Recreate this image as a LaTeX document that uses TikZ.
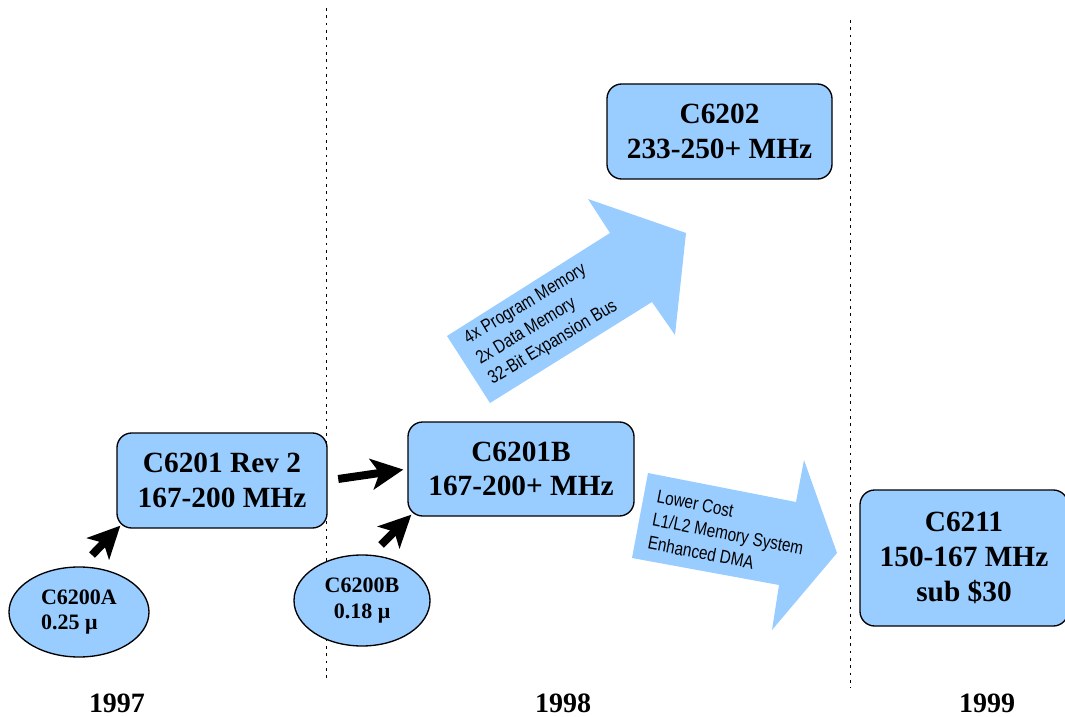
\documentclass[tikz,border=0pt]{standalone}
\usepackage{fontspec}
\setmainfont{Liberation Serif}
\newfontfamily\narrowfont{Liberation Sans}[FakeStretch=0.82]
\usetikzlibrary{arrows.meta,shapes.geometric}
\definecolor{chipblue}{HTML}{99CCFF}
\tikzset{
  chip/.style={draw=black, line width=1pt, fill=chipblue, rounded corners=11pt,
    align=center, inner sep=0pt, font=\fontsize{22}{26}\selectfont\bfseries},
  proc/.style={ellipse, draw=black, line width=1pt, fill=chipblue, inner sep=0pt,
    font=\fontsize{16.5}{19}\selectfont\bfseries},
  year/.style={font=\fontsize{21}{24}\selectfont\bfseries},
  bigarrow/.style={fill=chipblue, draw=none},
  arrowtext/.style={align=left, inner sep=0pt, font=\narrowfont\fontsize{14}{17.7}\selectfont},
  push/.style={line width=6pt, black, -{Stealth[length=24pt, width=23pt, inset=6pt]}},
  divider/.style={line width=0.75pt, dash pattern=on 2pt off 3.5pt}
}
\begin{document}
\begin{tikzpicture}[x=0.75pt,y=-0.75pt]
\useasboundingbox (0,0) rectangle (1065,717);

% dividers
\coordinate (d1t) at (326,8);
\coordinate (d1b) at (326,678);
\coordinate (d2t) at (850,20);
\coordinate (d2b) at (850,688);
\draw[divider] (d1t) -- (d1b);
\draw[divider] (d2t) -- (d2b);

% big blue arrows
\draw[bigarrow] (447,336) -- (610,233) -- (588,199) -- (686,233) -- (675,335) -- (652,302) -- (490,403) -- cycle;
\draw[bigarrow] (648,473) -- (796,502) -- (804,460) -- (837,553) -- (772,630) -- (779,585) -- (632,558) -- cycle;

\node[arrowtext, rotate=31] (up) at (541,323) {4x Program Memory\\2x Data Memory\\32-Bit Expansion Bus};
\node[arrowtext, rotate=-11] (low) at (728,534) {Lower Cost\\L1/L2 Memory System\\Enhanced DMA};

% chips
\node[chip, minimum width=157.5pt, minimum height=71.25pt] (rev2) at (222,480.5) {C6201 Rev 2\\167-200 MHz};
\node[chip, minimum width=169.5pt, minimum height=70.5pt] (b) at (521,469) {C6201B\\167-200+ MHz};
\node[chip, minimum width=168.75pt, minimum height=71.25pt] (c6202) at (719.5,131.5) {C6202\\233-250+ MHz};
\node[chip, minimum width=156pt, minimum height=102pt] (c6211) at (964,558) {C6211\\150-167 MHz\\sub \$30};

% processes
\node[proc, minimum width=105pt, minimum height=67.5pt, align=left] (pa) at (79,612) {C6200A\\0.25 μ};
\node[proc, minimum width=102pt, minimum height=68.25pt, align=center] (pb) at (362,600.5) {C6200B\\0.18 μ};

% black arrows
\coordinate (t1) at (92,555);
\coordinate (t3) at (381,545);
\draw[push] (t1) -- ([shift={(4,-3)}]rev2.south west);
\draw[push, shorten <=8pt, shorten >=3pt] (rev2.east) -- (b.west);
\draw[push] (t3) -- ([shift={(4,-2)}]b.south west);

% years
\node[year] (y97) at (117,703) {1997};
\node[year] (y98) at (563,703) {1998};
\node[year] (y99) at (987,703) {1999};
\end{tikzpicture}
\end{document}
